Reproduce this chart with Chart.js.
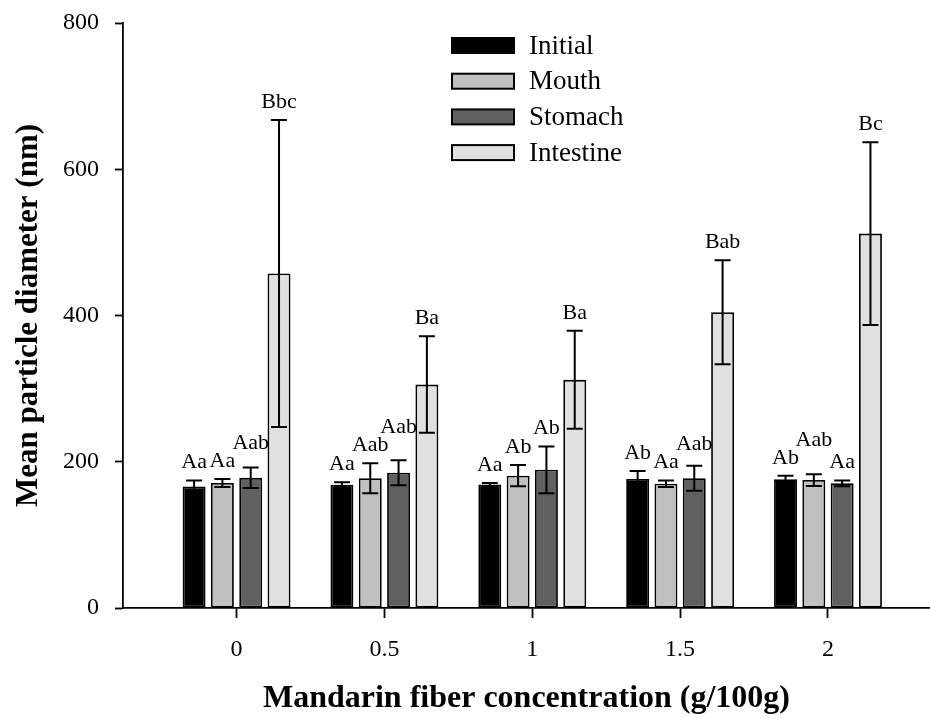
<!DOCTYPE html>
<html>
<head>
<meta charset="utf-8">
<script src="https://cdn.jsdelivr.net/npm/chart.js@4.4.0/dist/chart.umd.min.js"></script>
<style>
  html, body { margin: 0; padding: 0; background: #fff; }
  #wrap { width: 930px; height: 718px; }
</style>
</head>
<body>
<div id="wrap"><canvas id="c" width="930" height="718"></canvas></div>
<script>
// Mandarin fiber concentration (g/100g) on the x axis
const concentrations = [0, 0.5, 1, 1.5, 2];
const xTickLabels = ['0', '0.5', '1', '1.5', '2'];
const yTickValues = [0, 200, 400, 600, 800];

const phaseNames = ['Initial', 'Mouth', 'Stomach', 'Intestine'];

// Mean particle diameter (nm) per digestion phase
const initialMean   = [166, 168.5, 169, 176.5, 176];
const mouthMean     = [171, 177.5, 181, 170, 175];
const stomachMean   = [178, 185, 189, 177.5, 170.5];
const intestineMean = [457.5, 305.5, 312, 404.5, 512];

// Standard deviations
const initialSd   = [8.5, 3.5, 2, 11, 5];
const mouthSd     = [5.5, 20.5, 14.5, 4.5, 8];
const stomachSd   = [14, 17, 32, 17, 4];
const intestineSd = [210, 66, 67, 71, 125];

// Significance letters
const initialLetters   = ['Aa', 'Aa', 'Aa', 'Ab', 'Ab'];
const mouthLetters     = ['Aa', 'Aab', 'Ab', 'Aa', 'Aab'];
const stomachLetters   = ['Aab', 'Aab', 'Ab', 'Aab', 'Aa'];
const intestineLetters = ['Bbc', 'Ba', 'Ba', 'Bab', 'Bc'];

const phaseColors = ['#000000', '#c0c0c0', '#606060', '#e0e0e0'];

const SERIF = '"Liberation Serif", "Times New Roman", serif';

function series(means) {
  return means.map((v, i) => ({ x: concentrations[i], y: v }));
}

const datasets = [
  { label: phaseNames[0], data: series(initialMean),   sd: initialSd,   letters: initialLetters },
  { label: phaseNames[1], data: series(mouthMean),     sd: mouthSd,     letters: mouthLetters },
  { label: phaseNames[2], data: series(stomachMean),   sd: stomachSd,   letters: stomachLetters },
  { label: phaseNames[3], data: series(intestineMean), sd: intestineSd, letters: intestineLetters }
].map((d, i) => Object.assign(d, {
  backgroundColor: phaseColors[i],
  borderColor: '#000',
  borderWidth: 1.8,
  borderSkipped: false,
  categoryPercentage: 0.766,
  barPercentage: 0.81
}));

// Error bars (mean ± SD) with caps
const errorBars = {
  id: 'errorBars',
  afterDatasetsDraw(chart) {
    const { ctx } = chart;
    const y = chart.scales.y;
    ctx.save();
    ctx.strokeStyle = '#000';
    ctx.lineWidth = 2;
    chart.data.datasets.forEach((ds, di) => {
      const meta = chart.getDatasetMeta(di);
      meta.data.forEach((bar, i) => {
        const m = ds.data[i].y, s = ds.sd[i];
        const top = y.getPixelForValue(m + s);
        const low = y.getPixelForValue(m - s);
        const half = 8;
        ctx.beginPath();
        ctx.moveTo(bar.x, low); ctx.lineTo(bar.x, top);
        ctx.moveTo(bar.x - half, top); ctx.lineTo(bar.x + half, top);
        ctx.moveTo(bar.x - half, low); ctx.lineTo(bar.x + half, low);
        ctx.stroke();
      });
    });
    ctx.restore();
  }
};

// Letters above each error bar; a label that would collide with a
// neighbour in the same group is lifted above it.
const letterLabels = {
  id: 'letterLabels',
  afterDatasetsDraw(chart) {
    const { ctx } = chart;
    const y = chart.scales.y;
    const capH = 15, gap = 3, lift = 12;
    ctx.save();
    ctx.font = '22px ' + SERIF;
    ctx.fillStyle = '#000';
    ctx.textAlign = 'center';
    ctx.textBaseline = 'alphabetic';
    const n = concentrations.length;
    for (let i = 0; i < n; i++) {
      const placed = [];
      chart.data.datasets.forEach((ds, di) => {
        const bar = chart.getDatasetMeta(di).data[i];
        const txt = ds.letters[i];
        const w = ctx.measureText(txt).width;
        let base = y.getPixelForValue(ds.data[i].y + ds.sd[i]) - lift;
        const l = bar.x - w / 2, r = bar.x + w / 2;
        let moved = true;
        while (moved) {
          moved = false;
          for (const b of placed) {
            const hOverlap = l < b.r && r > b.l;
            const vOverlap = (base - capH) < b.base && base > (b.base - capH);
            if (hOverlap && vOverlap) {
              base = b.base - capH - gap;
              moved = true;
            }
          }
        }
        placed.push({ l, r, base });
        ctx.fillText(txt, bar.x, base);
      });
    }
    ctx.restore();
  }
};

// Legend box in the upper middle of the plot
const phaseLegend = {
  id: 'phaseLegend',
  afterDraw(chart) {
    const { ctx } = chart;
    const left = 452, top = 38, w = 62, h = 15, pitch = 35.7;
    ctx.save();
    ctx.font = '27px ' + SERIF;
    ctx.textAlign = 'left';
    ctx.textBaseline = 'middle';
    chart.data.datasets.forEach((ds, i) => {
      const yy = top + i * pitch;
      ctx.fillStyle = ds.backgroundColor;
      ctx.fillRect(left, yy, w, h);
      ctx.strokeStyle = '#000';
      ctx.lineWidth = 2;
      ctx.strokeRect(left, yy, w, h);
      ctx.fillStyle = '#000';
      ctx.fillText(ds.label, 529, yy + h / 2 + 1);
    });
    ctx.restore();
  }
};

new Chart(document.getElementById('c'), {
  type: 'bar',
  data: { datasets },
  options: {
    responsive: false,
    animation: false,
    devicePixelRatio: 1,
    layout: { padding: { top: 23, right: 0, bottom: 0, left: 0 } },
    plugins: {
      legend: { display: false },
      tooltip: { enabled: false }
    },
    scales: {
      x: {
        type: 'linear',
        min: -0.384,
        max: 2.345,
        offset: false,
        afterBuildTicks(scale) {
          scale.ticks = concentrations.map(v => ({ value: v }));
        },
        afterFit(scale) {
          scale.height = 110;
          scale.paddingLeft = 0;
          scale.paddingRight = 0;
        },
        grid: {
          display: true,
          offset: false,
          drawOnChartArea: false,
          drawTicks: true,
          tickLength: 10,
          tickColor: '#000',
          tickWidth: 1.8
        },
        border: { display: true, color: '#000', width: 1.8 },
        ticks: {
          color: '#000',
          font: { family: SERIF, size: 24 },
          padding: 17,
          maxRotation: 0,
          callback(value) {
            const k = concentrations.indexOf(value);
            return k >= 0 ? xTickLabels[k] : '';
          }
        },
        title: {
          display: true,
          text: 'Mandarin fiber concentration (g/100g)',
          color: '#000',
          font: { family: SERIF, size: 32, weight: 'bold' },
          padding: { top: 0, bottom: 0 }
        }
      },
      y: {
        type: 'linear',
        min: 0,
        max: 800,
        afterBuildTicks(scale) {
          scale.ticks = yTickValues.map(v => ({ value: v }));
        },
        afterFit(scale) {
          scale.width = 123;
          scale.paddingTop = 0;
          scale.paddingBottom = 0;
        },
        grid: {
          display: true,
          drawOnChartArea: false,
          drawTicks: true,
          tickLength: 8,
          tickColor: '#000',
          tickWidth: 1.8
        },
        border: { display: true, color: '#000', width: 1.8 },
        ticks: {
          color: '#000',
          font: { family: SERIF, size: 24 },
          padding: 16
        },
        title: {
          display: true,
          text: 'Mean particle diameter (nm)',
          color: '#000',
          font: { family: SERIF, size: 31, weight: 'bold' },
          padding: { top: 10, bottom: 0 }
        }
      }
    }
  },
  plugins: [errorBars, letterLabels, phaseLegend]
});
</script>
</body>
</html>
